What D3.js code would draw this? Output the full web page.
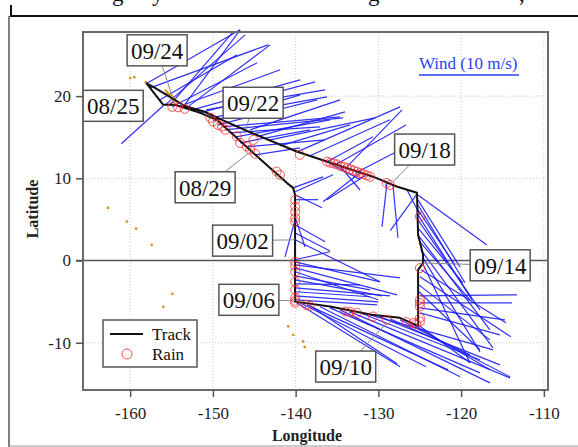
<!DOCTYPE html>
<html>
<head>
<meta charset="utf-8">
<script src="https://cdn.jsdelivr.net/npm/d3@7"></script>
<style>
  body { margin: 0; background: #fff; }
  svg { display: block; font-family: "Liberation Serif", "Times New Roman", serif; }
</style>
</head>
<body>
<svg width="578" height="447"></svg>
<script>
// axis ticks
const lonTicks = [-160, -150, -140, -130, -120, -110];
const latTicks = [-10, 0, 10, 20];

// storm track (lon, lat)
const trackLon = [-158.07, -156.0, -154.57, -151.55, -149.53, -145.14, -141.07, -140.31, -140.07, -140.07, -140.07,
  -135.85, -130.8, -127.4, -125.2, -125.2, -125.2, -124.6, -124.6, -125.2, -125.34,
  -127.8, -130.65, -136.24, -139.87, -145.5, -148.9, -151.0, -153.4, -155.2, -157.0, -157.9];
const trackLat = [21.6, 18.94, 18.94, 17.97, 17.12, 13.1, 9.45, 8.84, 8.0, 2.5, -5.0,
  -5.6, -6.6, -6.97, -7.94, -7.2, -1.13, -0.28, 0.7, 3.1, 8.24,
  9.0, 10.2, 12.04, 13.26, 15.6, 17.1, 18.1, 18.8, 19.9, 21.0, 21.5];

// rain flags along the track
const rainLon = [-154.9, -154.2, -153.4, -150.3, -150.0, -149.4, -148.9, -148.5, -147.1, -146.7, -145.9, -145.5, -144.9,
  -142.3, -141.9, -145.1, -139.5,
  -136.2, -135.8, -135.4, -135.0, -134.6, -134.2, -133.8, -133.4, -133.0, -132.6, -132.2, -131.8, -131.4, -131.0,
  -129.0, -128.6,
  -140.05, -140.05, -140.05, -140.05, -140.05, -140.05, -140.05, -140.05, -140.05, -140.05, -140.05, -140.05, -140.05,
  -138.7, -138.3, -134.0, -133.4, -132.6, -130.65, -129.0, -126.6, -125.8, -125.4,
  -124.98, -124.98, -124.98, -124.98, -124.98, -124.98, -124.98];
const rainLat = [18.7, 18.64, 18.45, 17.36, 16.9, 16.5, 16.3, 15.9, 15.1, 14.3, 13.87, 13.47, 12.98,
  10.83, 10.43, 14.68, 12.86,
  12.04, 11.9, 11.8, 11.7, 11.5, 11.4, 11.25, 11.1, 10.95, 10.8, 10.65, 10.5, 10.35, 10.2,
  9.42, 9.2,
  7.38, 6.53, 5.92, 5.19, 4.7, -0.16, -0.64, -1.37, -2.59, -3.56, -4.54, -4.9, -5.15,
  -5.39, -5.51, -6.2, -6.27, -6.36, -6.81, -7.21, -7.49, -7.6, -7.74,
  -7.42, -7.0, -5.6, -5.18, -4.78, -0.92, 5.35];

// wind vectors: start (lon, lat), components (m/s)
const windLon = [-158.07, -157.58, -156.38, -155.77, -154.93, -154.20, -153.36, -152.51, -151.55, -150.82,
  -150.34, -149.98, -149.37, -148.89, -148.53, -147.92, -147.20, -146.71, -145.99, -145.51,
  -144.90, -156.00, -153.60, -155.17, -144.30, -143.09, -141.88, -139.83, -138.26, -136.21,
  -135.24, -134.03, -132.71, -132.22, -131.62, -135.85, -134.64, -140.31, -140.07, -140.07,
  -140.07, -140.07, -140.07, -128.96, -128.24, -125.30, -126.55, -125.22, -125.22, -125.22,
  -125.22, -125.22, -125.22, -125.22, -125.22, -124.98, -124.86, -124.61, -124.61, -124.86,
  -124.98, -125.10, -125.10, -124.98, -124.98, -124.98, -124.98, -140.07, -140.07, -140.07,
  -140.07, -140.07, -140.07, -140.07, -140.07, -140.07, -140.07, -140.07, -140.07, -140.07,
  -140.07, -140.07, -140.07, -139.47, -138.62, -138.26, -137.05, -135.85, -134.64, -133.43,
  -132.22, -131.00, -129.81, -128.60, -127.39, -126.18, -125.22];
const windLat = [21.50, 21.01, 19.55, 18.94, 18.70, 18.70, 18.45, 18.33, 17.97, 18.33,
  17.36, 16.99, 16.51, 16.27, 15.90, 15.54, 15.05, 14.32, 13.83, 15.90,
  12.86, 18.82, 18.70, 18.94, 15.17, 14.68, 13.95, 13.22, 12.74, 12.01,
  11.62, 11.15, 10.67, 10.67, 10.31, 11.8, 11.5, 8.84, 8.36, 8.0,
  7.4, 4.95, 5.3, 9.45, 9.21, 8.13, 8.6, 7.97, 7.38, 6.78,
  6.17, 5.56, 4.95, 3.98, 3.13, 2.28, 1.30, 0.33, -0.41, -1.13,
  -1.98, -2.96, -3.80, -4.29, -5.14, -5.76, -6.36, 0.09, -0.16, -0.52,
  -0.89, -1.37, -1.86, -2.35, -2.84, -3.32, -3.80, -4.29, -4.78, 3.34,
  2.52, 4.34, -5.02, -5.14, -5.39, -5.5, -5.63, -5.76, -6.00, -6.24,
  -6.36, -6.61, -6.85, -7.09, -7.21, -7.58, -7.82];
const windU = [9.4, 11.8, 7.7, 8.0, 8.5, 10.2, 8.5, 10.8, 11.5, 11.9,
  11.7, 8.7, 9.9, 11.8, 11.8, 9.0, 9.4, 7.0, 7.9, 9.0,
  4.5, -4.2, 5.7, 6.3, 8.5, 10.5, 7.0, 10.3, 8.0, 4.6,
  7.1, 5.7, 5.4, -3.7, -3.8, 3.0, 2.0, 3.0, 3.8, 2.7,
  2.3, -1.0, 1.0, -0.5, 0.5, -2.7, 1.3, 6.9, 4.2, 4.7,
  3.7, 5.4, 6.2, 4.5, 7.2, 5.0, 7.2, 5.7, 4.7, 8.5,
  9.1, 7.1, 6.1, 9.7, 9.2, 8.5, 8.0, 3.5, 8.5, 10.5,
  10.2, 8.3, 7.5, 8.7, 6.5, 9.5, 7.5, 8.3, 8.2, 3.5,
  8.5, 3.0, 10.5, 12.6, 14.1, 8.7, 14.0, 15.0, 15.0, 16.0,
  12.0, 12.3, 12.0, 8.0, 11.0, 8.0, 5.2];
const windV = [5.4, 4.3, 4.5, 7.0, 4.4, 3.7, 6.4, 3.0, 3.1, 2.0,
  2.1, 2.6, 2.5, 1.0, 1.2, 0.6, 1.7, 1.3, 0.7, 3.0,
  0.7, -3.8, 7.7, 7.3, 2.4, 2.2, 2.1, 4.5, 3.6, 2.5,
  4.0, 5.9, 2.8, -2.9, -2.4, -1.6, -2.4, 1.1, 1.7, -1.3,
  0.0, -3.7, -3.0, -4.4, -5.3, -3.7, -2.5, -5.0, -6.7, -7.8,
  -5.5, -8.5, -9.0, -5.5, -9.5, -5.8, -9.8, -9.4, -9.9, -5.3,
  -6.0, -5.5, -5.8, 0.1, 0.0, -1.2, -2.2, 0.8, -2.0, -1.3,
  -2.7, -2.8, -1.4, -1.6, -0.1, -0.8, -0.5, -0.6, -0.5, -1.8,
  -4.2, -1.7, -6.5, -6.4, -6.5, -5.8, -7.0, -6.5, -7.3, -6.6,
  -4.7, -3.5, -4.8, -3.6, -5.7, -4.7, -3.8];

// orange drifter fixes
const dotLon = [-160.0, -159.5, -162.66, -160.4, -159.28, -157.4, -154.9, -156.0, -140.9, -140.3, -139.1, -138.9, -158.1];
const dotLat = [22.2, 22.3, 6.4, 4.74, 3.87, 1.9, -4.05, -5.63, -8.0, -9.04, -9.85, -10.5, 21.7];
const loopLon = [-155.8, -155.4, -154.9, -154.2, -154.8, -155.8];
const loopLat = [20.8, 20.2, 19.55, 19.2, 19.9, 20.8];

// date labels: box centre and the track point it marks
const dateText = ['08/25', '08/29', '09/02', '09/06', '09/10', '09/14', '09/18', '09/22', '09/24'];
const boxLon = [-162.05, -150.94, -146.41, -145.65, -133.95, -115.28, -124.41, -145.14, -156.74];
const boxLat = [18.82, 8.91, 2.42, -4.78, -12.9, -0.58, 13.5, 19.19, 25.57];
const markLon = [-162.05, -145.5, -140.07, -140.07, -128.96, -124.6, -128.24, -146.0, -154.93];
const markLat = [18.82, 13.2, 2.52, -4.9, -7.58, -0.3, 9.57, 15.9, 20.04];

const svg = d3.select('svg');

const x = d3.scaleLinear().domain([-165.7, -109.5]).range([83, 548]);
const y = d3.scaleLinear().domain([-15.75, 27.8]).range([390, 32]);
const windLen = d3.scaleLinear().domain([0, 10]).range([0, 100]);

// page frame bits
svg.append('line').attr('x1', 10).attr('x2', 578).attr('y1', 16).attr('y2', 16)
  .attr('stroke', '#111').attr('stroke-width', 2);
svg.append('line').attr('x1', 11).attr('x2', 11).attr('y1', 5).attr('y2', 16)
  .attr('stroke', '#111').attr('stroke-width', 2);
svg.append('line').attr('x1', 9).attr('x2', 9).attr('y1', 16).attr('y2', 447)
  .attr('stroke', '#555').attr('stroke-width', 1.5);
svg.append('line').attr('x1', 9).attr('x2', 578).attr('y1', 446).attr('y2', 446)
  .attr('stroke', '#999').attr('stroke-width', 1);
[['g', 112], ['y', 152], ['g', 368], [',', 519]].forEach(([c, px]) => {
  svg.append('text').attr('x', px).attr('y', 1).attr('font-size', 23).attr('fill', '#111').text(c);
});

// grid
const grid = svg.append('g').attr('stroke', '#c8c8c8').attr('stroke-width', 1).attr('stroke-dasharray', '1,2');
grid.selectAll('.gx').data(lonTicks).enter().append('line')
  .attr('x1', d => x(d)).attr('x2', d => x(d)).attr('y1', 32).attr('y2', 390);
grid.selectAll('.gy').data(latTicks.filter(d => d !== 0)).enter().append('line')
  .attr('y1', d => y(d)).attr('y2', d => y(d)).attr('x1', 83).attr('x2', 548);

// equator
svg.append('line').attr('x1', 76).attr('x2', 548).attr('y1', y(0)).attr('y2', y(0))
  .attr('stroke', '#555').attr('stroke-width', 1.5);

// wind vectors
const windIdx = d3.range(windLon.length);
svg.append('g').selectAll('line').data(windIdx).enter().append('line')
  .attr('x1', i => x(windLon[i]))
  .attr('y1', i => y(windLat[i]))
  .attr('x2', i => x(windLon[i]) + windLen(windU[i]))
  .attr('y2', i => y(windLat[i]) - windLen(windV[i]))
  .attr('stroke', '#1c1cf5').attr('stroke-width', 1.2).attr('stroke-opacity', 0.9);

// orange drifter marks
const lineGen = d3.line().x(d => x(d[0])).y(d => y(d[1]));
svg.append('path').attr('d', lineGen(d3.zip(loopLon, loopLat)))
  .attr('fill', 'none').attr('stroke', '#d9961f').attr('stroke-width', 1.5);
svg.append('g').selectAll('circle').data(d3.zip(dotLon, dotLat)).enter().append('circle')
  .attr('cx', d => x(d[0])).attr('cy', d => y(d[1])).attr('r', 1.4).attr('fill', '#d9961f');

// track
svg.append('path').attr('d', lineGen(d3.zip(trackLon, trackLat)))
  .attr('fill', 'none').attr('stroke', '#111').attr('stroke-width', 2).attr('stroke-linejoin', 'round');

// rain
svg.append('g').selectAll('circle').data(d3.zip(rainLon, rainLat)).enter().append('circle')
  .attr('cx', d => x(d[0])).attr('cy', d => y(d[1])).attr('r', 4.5)
  .attr('fill', 'none').attr('stroke', '#ff2a2a').attr('stroke-width', 1).attr('stroke-opacity', 0.8);

// date labels
const labIdx = d3.range(dateText.length);
svg.append('g').selectAll('line').data(labIdx).enter().append('line')
  .attr('x1', i => x(boxLon[i])).attr('y1', i => y(boxLat[i]))
  .attr('x2', i => x(markLon[i])).attr('y2', i => y(markLat[i]))
  .attr('stroke', '#888').attr('stroke-width', 1);
const boxes = svg.append('g').selectAll('g').data(labIdx).enter().append('g')
  .attr('transform', i => `translate(${x(boxLon[i])},${y(boxLat[i])})`);
boxes.append('rect').attr('x', -30).attr('y', -15.5).attr('width', 60).attr('height', 31)
  .attr('fill', '#fff').attr('stroke', '#555').attr('stroke-width', 1.5);
boxes.append('text').attr('text-anchor', 'middle').attr('dy', '0.36em')
  .attr('font-size', 23).attr('fill', '#111').text(i => dateText[i]);

// wind scale
svg.append('text').attr('x', 419).attr('y', 69).attr('font-size', 17).attr('fill', '#2a3ff0')
  .text('Wind (10 m/s)');
svg.append('line').attr('x1', 419).attr('x2', 419 + windLen(10)).attr('y1', 75).attr('y2', 75)
  .attr('stroke', '#2a3ff0').attr('stroke-width', 1.5);

// legend
const legend = svg.append('g').attr('transform', 'translate(103,320)');
legend.append('rect').attr('width', 94).attr('height', 47).attr('fill', '#fff')
  .attr('stroke', '#555').attr('stroke-width', 1.5);
legend.append('line').attr('x1', 7).attr('x2', 40).attr('y1', 14).attr('y2', 14)
  .attr('stroke', '#111').attr('stroke-width', 2);
legend.append('circle').attr('cx', 24).attr('cy', 34).attr('r', 5)
  .attr('fill', 'none').attr('stroke', '#ff4a4a').attr('stroke-width', 1);
legend.append('text').attr('x', 49).attr('y', 19.5).attr('font-size', 17).attr('fill', '#111').text('Track');
legend.append('text').attr('x', 49).attr('y', 39.5).attr('font-size', 17).attr('fill', '#111').text('Rain');

// plot frame
svg.append('rect').attr('x', 83).attr('y', 32).attr('width', 465).attr('height', 358)
  .attr('fill', 'none').attr('stroke', '#6a6a6a').attr('stroke-width', 2);

// axes
const xAxis = svg.append('g').attr('transform', 'translate(0,390)')
  .call(d3.axisBottom(x).tickValues(lonTicks).tickSize(7).tickPadding(10).tickFormat(d => String(d)));
const yAxis = svg.append('g').attr('transform', 'translate(83,0)')
  .call(d3.axisLeft(y).tickValues(latTicks).tickSize(7).tickPadding(5).tickFormat(d => String(d)));
[xAxis, yAxis].forEach(a => {
  a.select('.domain').remove();
  a.selectAll('line').attr('stroke', '#555').attr('stroke-width', 1.5);
  a.selectAll('text').attr('font-family', '"Liberation Serif", serif').attr('font-size', 17).attr('fill', '#222');
});

svg.append('text').attr('x', 307).attr('y', 441).attr('text-anchor', 'middle')
  .attr('font-size', 16).attr('font-weight', 'bold').attr('fill', '#222').text('Longitude');
svg.append('text').attr('transform', 'translate(38,209) rotate(-90)').attr('text-anchor', 'middle')
  .attr('font-size', 16).attr('font-weight', 'bold').attr('fill', '#222').text('Latitude');
</script>
</body>
</html>
